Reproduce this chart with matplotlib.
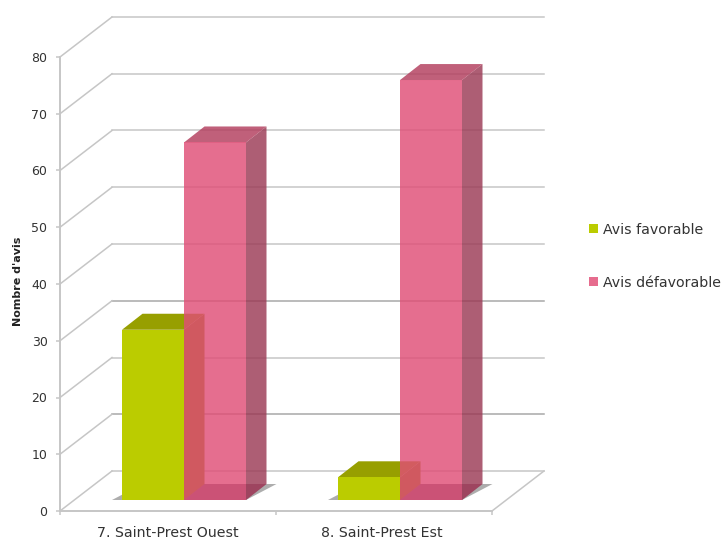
import matplotlib
matplotlib.use("Agg")
import matplotlib.pyplot as plt
from matplotlib.patches import Polygon, Rectangle

categories = ["7. Saint-Prest Ouest", "8. Saint-Prest Est"]
favorable = [30, 4]
defavorable = [63, 74]
series_names = ["Avis favorable", "Avis défavorable"]
y_ticks = [0, 10, 20, 30, 40, 50, 60, 70, 80]

W, H = 722, 540
GREY = "#c6c6c6"
TEXT = "#333333"

fig = plt.figure(figsize=(W / 100, H / 100), dpi=100)
# front plane of the 3D box: x 60-492 px, y 57-511 px
ax = fig.add_axes([60 / W, 1 - 511 / H, 432 / W, 454 / H])
ax.set_xlim(0, 2)
ax.set_ylim(0, 80)
ax.patch.set_visible(False)
for side in ["top", "right"]:
    ax.spines[side].set_visible(False)
for side in ["left", "bottom"]:
    ax.spines[side].set_color(GREY)
    ax.spines[side].set_linewidth(1.4)

PX = 2 / 432
PY = 80 / 454
BOX_DX, BOX_DY = 52 * PX, 40 * PY
BAR_DX, BAR_DY = 20.5 * PX, 16 * PY
LIFT_DX, LIFT_DY = 16 * PX, 11 * PY
BAR_W = 62 * PX


def poly(pts, **kw):
    ax.add_patch(Polygon(pts, closed=True, clip_on=False, linewidth=0, **kw))


# back wall gridlines and their side returns
for v in y_ticks:
    line_color = "#a8a8a8" if v in (10, 30) else GREY
    ax.plot([BOX_DX, 2 + BOX_DX], [v + BOX_DY, v + BOX_DY], color=line_color, lw=1.1,
            clip_on=False, zorder=1)
    ax.plot([0, BOX_DX], [v, v + BOX_DY], color=GREY, lw=1.1, clip_on=False, zorder=1)
ax.plot([2, 2 + BOX_DX], [0, BOX_DY], color=GREY, lw=1.1, clip_on=False, zorder=1)


def draw_bar(x, value, front, top, side, under, alpha):
    x0 = x + LIFT_DX
    x1 = x0 + BAR_W
    y0 = LIFT_DY
    y1 = y0 + value
    poly([(x1, y0), (x1 + BAR_DX, y0 + BAR_DY), (x1 + BAR_DX, y1 + BAR_DY), (x1, y1)],
         facecolor=side, alpha=alpha, zorder=3)
    poly([(x0, y1), (x1, y1), (x1 + BAR_DX, y1 + BAR_DY), (x0 + BAR_DX, y1 + BAR_DY)],
         facecolor=top, alpha=alpha, zorder=3)
    ax.add_patch(Rectangle((x0, y0), BAR_W, value, facecolor=front, alpha=alpha,
                           linewidth=0, clip_on=False, zorder=3))
    if under:
        # bottom face shows through the see-through bar
        poly([(x0, y0), (x1, y0), (x1 + BAR_DX, y0 + BAR_DY), (x0 + BAR_DX, y0 + BAR_DY)],
             facecolor=under, alpha=0.2, zorder=3)


for i, (fav, defav) in enumerate(zip(favorable, defavorable)):
    center = i + 0.5
    # floor shadow
    x0 = center + LIFT_DX - BAR_W
    x1 = center + LIFT_DX + BAR_W
    poly([(x0 - 10 * PX, LIFT_DY), (x1, LIFT_DY),
          (x1 + BAR_DX + 10 * PX, LIFT_DY + BAR_DY), (x0 + BAR_DX, LIFT_DY + BAR_DY)],
         facecolor="#777777", alpha=0.6, zorder=2)
    draw_bar(center - BAR_W, fav, "#bbcc00", "#979f00", "#8a8f00", None, 1.0)
    draw_bar(center, defav, "#e04e76", "#b23d5d", "#9b3a55", "#a02050", 0.82)

ax.set_xticks([0, 1, 2])
ax.set_xticklabels([])
ax.set_yticks(y_ticks)
ax.tick_params(axis="both", length=3, color=GREY, width=1.1)
ax.tick_params(axis="y", labelsize=9, labelcolor=TEXT, pad=6)
ax.set_ylabel("Nombre d'avis", fontsize=8, fontweight="bold", color="#222222", labelpad=6, y=0.505)

for i, name in enumerate(categories):
    ax.text(i + 0.5 - 0.01 * i, -3.9, name, ha="center", va="center", fontsize=10.2, color=TEXT)

# legend
for y_px, name, color in zip([229, 282], series_names, ["#bbcc00", "#e66c8e"]):
    fig.add_artist(Rectangle((589 / W, 1 - (y_px + 4) / H), 9 / W, 9 / H, facecolor=color,
                             linewidth=0, transform=fig.transFigure))
    fig.text(603 / W, 1 - (y_px + 1) / H, name, ha="left", va="center", fontsize=10.2, color=TEXT)

fig.savefig("out.png", dpi=100)
